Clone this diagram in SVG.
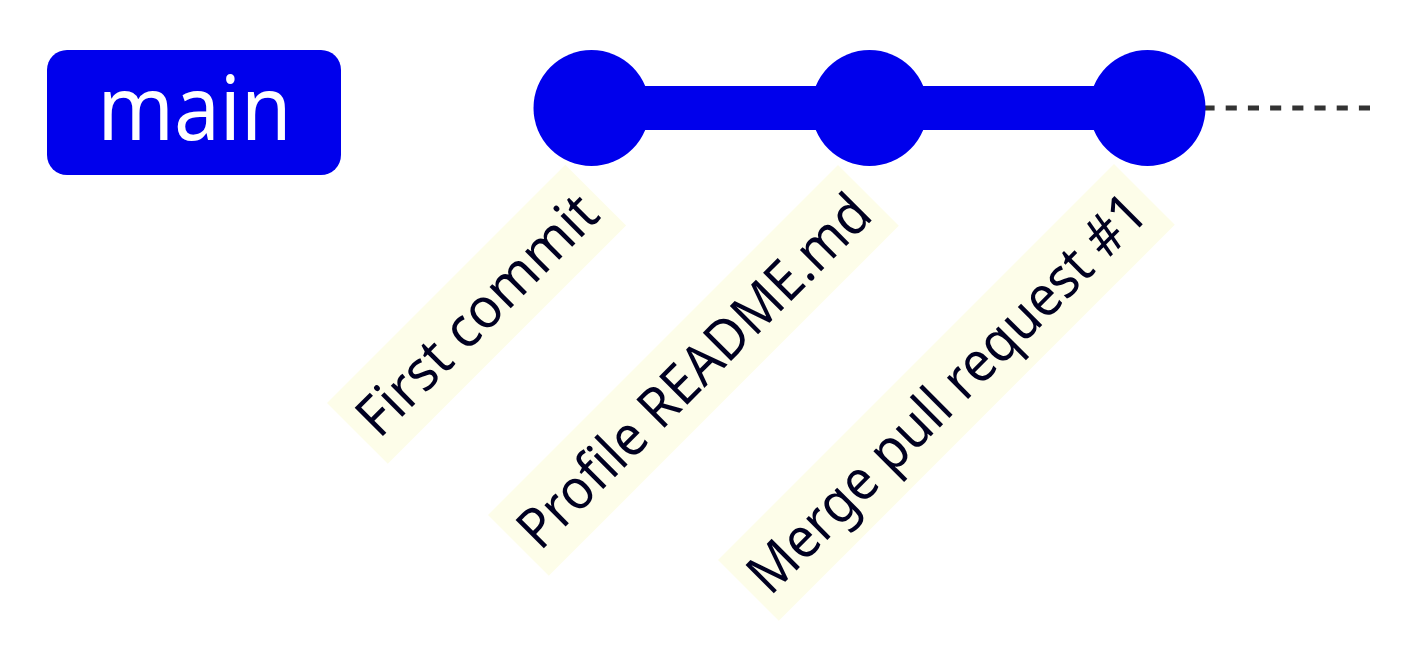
<svg xmlns="http://www.w3.org/2000/svg" width="1408" height="650" viewBox="0 0 1408 650">
  <style>
    .branch-label-bkg { fill: #0000ec; }
    .branch-label { fill: #ffffff; font-family: "Noto Sans", "Open Sans", sans-serif; font-size: 89px; }
    .commit { fill: #0000ec; }
    .commit-line { stroke: #0000ec; stroke-width: 44; fill: none; }
    .branch-line { stroke: #333333; stroke-width: 5; stroke-dasharray: 11.1 11.1; fill: none; }
    .commit-label-bkg { fill: #fdfde9; }
    .commit-label { fill: #000021; font-family: "Noto Sans", "Open Sans", sans-serif; font-size: 56px; }
  </style>

  <!-- branch name -->
  <g id="branch-main">
    <rect class="branch-label-bkg" x="47" y="50" width="294" height="125" rx="20" ry="20"/>
    <text class="branch-label" x="194.5" y="140" text-anchor="middle" textLength="194" lengthAdjust="spacingAndGlyphs">main</text>
  </g>

  <!-- branch line and links between commits -->
  <g id="connectors">
    <line class="branch-line" x1="1370" y1="108" x2="1190" y2="108"/>
    <line class="commit-line" x1="591.5" y1="108" x2="869.5" y2="108"/>
    <line class="commit-line" x1="869.5" y1="108" x2="1147.5" y2="108"/>
  </g>

  <!-- commits -->
  <g id="commit-1">
    <circle class="commit" cx="591.5" cy="108" r="58"/>
  </g>
  <g id="commit-2">
    <circle class="commit" cx="869.5" cy="108" r="58"/>
  </g>
  <g id="commit-3">
    <circle class="commit" cx="1147.5" cy="108" r="58"/>
  </g>

  <!-- commit labels, rotated -45deg -->
  <g id="label-commit-1" transform="translate(327 403) rotate(-45)">
    <rect class="commit-label-bkg" x="0" y="0" width="337" height="86"/>
    <text class="commit-label" x="11" y="63" textLength="315" lengthAdjust="spacingAndGlyphs">First commit</text>
  </g>
  <g id="label-commit-2" transform="translate(488 515) rotate(-45)">
    <rect class="commit-label-bkg" x="0" y="0" width="495" height="86"/>
    <text class="commit-label" x="11" y="63" textLength="473" lengthAdjust="spacingAndGlyphs">Profile README.md</text>
  </g>
  <g id="label-commit-3" transform="translate(718 560) rotate(-45)">
    <rect class="commit-label-bkg" x="0" y="0" width="560" height="86"/>
    <text class="commit-label" x="11" y="63" textLength="538" lengthAdjust="spacingAndGlyphs">Merge pull request #1</text>
  </g>
</svg>
